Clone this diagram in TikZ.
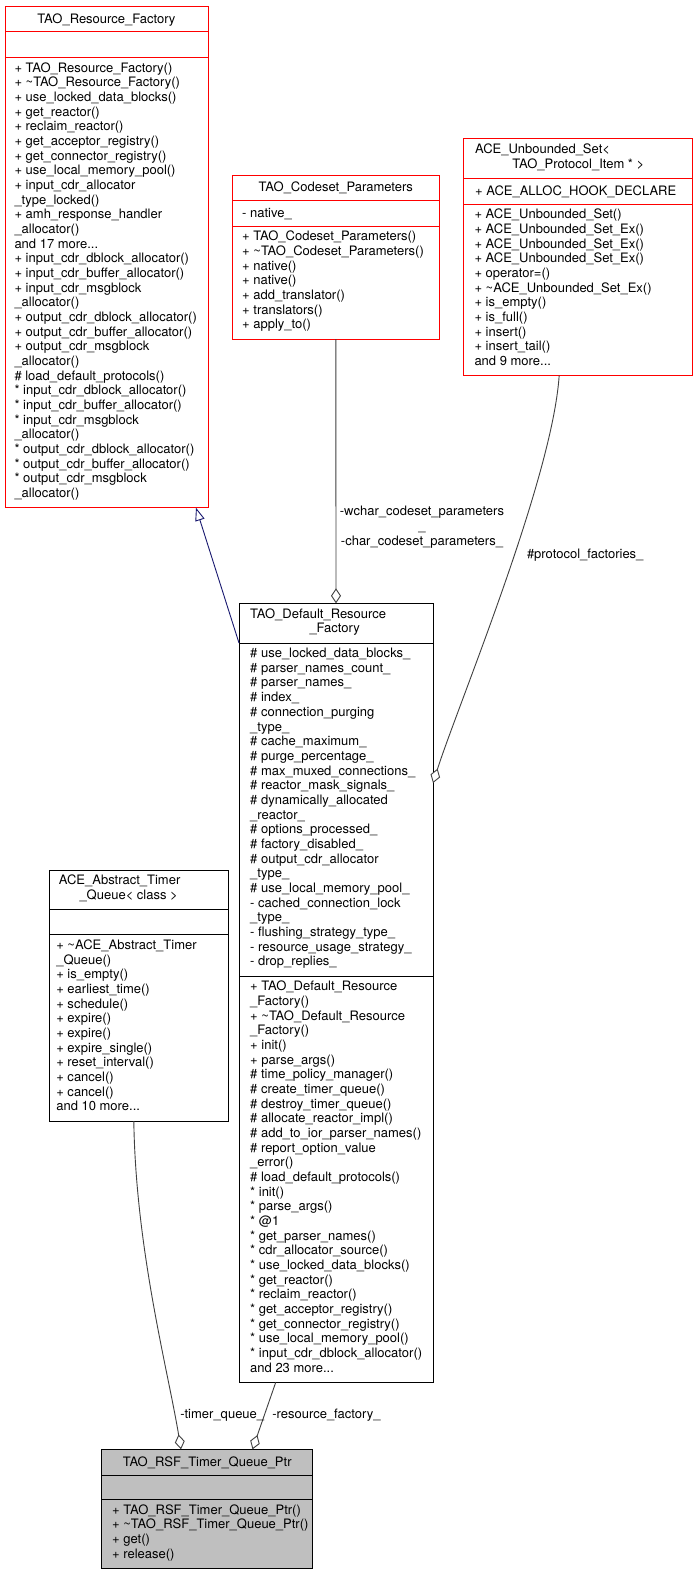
\documentclass[tikz,border=0pt]{standalone}
\usepackage{fontspec}
\setmainfont{TeX Gyre Heros}
\usetikzlibrary{arrows.meta,calc}
\definecolor{edgegray}{HTML}{404040}
\definecolor{inhblue}{HTML}{191970}
\definecolor{boxred}{HTML}{FF0000}
\definecolor{fillgray}{HTML}{BFBFBF}
\newcommand{\mystrut}{\rule[-3.2pt]{0pt}{14.67pt}}
\newcommand{\tl}{\textasciitilde}
\begin{document}
\begin{tikzpicture}[x=1pt,y=-1pt,
  secbox/.style={draw=#1, line width=1pt, fill=white, inner sep=0pt, outer sep=0pt},
  txt/.style={inner sep=0pt, outer sep=0pt, align=left, anchor=north west,
    font=\fontsize{13pt}{14.67pt}\selectfont,
    execute at begin node=\mystrut, execute at end node=\mystrut},
  lbl/.style={inner sep=0pt, outer sep=0pt, font=\fontsize{13pt}{14.67pt}\selectfont},
  edge/.style={draw=edgegray, line width=0.9pt},
  agg/.style={-{Diamond[fill=white,length=15pt,width=10pt]}},
  inh/.style={draw=inhblue, line width=0.9pt, -{Triangle[fill=white,length=13pt,width=9.5pt]}}
]
\fill[white] (0,0) rectangle (699,1576);
\useasboundingbox (0,0) rectangle (699,1576);

% ---------- TAO_Resource_Factory ----------
\node[secbox=boxred, minimum width=203pt, minimum height=25pt, anchor=north west] (rf-t) at (5,6.7) {};
\node[secbox=boxred, minimum width=203pt, minimum height=25.6pt, anchor=north] (rf-a) at (rf-t.south) {};
\node[secbox=boxred, minimum width=203pt, minimum height=450.4pt, anchor=north] (rf-m) at (rf-a.south) {};
\node[lbl, anchor=base] (rf-tt) at ($(rf-t.center)+(0,4.1)$) {TAO\_Resource\_Factory};
\node[txt] (rf-mt) at ($(rf-m.north west)+(9.5,5.17)$) {%
+ TAO\_Resource\_Factory()\\
+ \tl TAO\_Resource\_Factory()\\
+ use\_locked\_data\_blocks()\\
+ get\_reactor()\\
+ reclaim\_reactor()\\
+ get\_acceptor\_registry()\\
+ get\_connector\_registry()\\
+ use\_local\_memory\_pool()\\
+ input\_cdr\_allocator\\
\_type\_locked()\\
+ amh\_response\_handler\\
\_allocator()\\
and 17 more...\\
+ input\_cdr\_dblock\_allocator()\\
+ input\_cdr\_buffer\_allocator()\\
+ input\_cdr\_msgblock\\
\_allocator()\\
+ output\_cdr\_dblock\_allocator()\\
+ output\_cdr\_buffer\_allocator()\\
+ output\_cdr\_msgblock\\
\_allocator()\\
\# load\_default\_protocols()\\
{*} input\_cdr\_dblock\_allocator()\\
{*} input\_cdr\_buffer\_allocator()\\
{*} input\_cdr\_msgblock\\
\_allocator()\\
{*} output\_cdr\_dblock\_allocator()\\
{*} output\_cdr\_buffer\_allocator()\\
{*} output\_cdr\_msgblock\\
\_allocator()};

% ---------- TAO_Codeset_Parameters ----------
\node[secbox=boxred, minimum width=206.3pt, minimum height=25.7pt, anchor=north west] (cp-t) at (232.7,175) {};
\node[secbox=boxred, minimum width=206.3pt, minimum height=25.3pt, anchor=north] (cp-a) at (cp-t.south) {};
\node[secbox=boxred, minimum width=206.3pt, minimum height=113pt, anchor=north] (cp-m) at (cp-a.south) {};
\node[lbl, anchor=base] (cp-tt) at ($(cp-t.center)+(0,4.1)$) {TAO\_Codeset\_Parameters};
\node[txt] (cp-at) at ($(cp-a.north west)+(9.5,5.17)$) {- native\_};
\node[txt] (cp-mt) at ($(cp-m.north west)+(9.5,5.17)$) {%
+ TAO\_Codeset\_Parameters()\\
+ \tl TAO\_Codeset\_Parameters()\\
+ native()\\
+ native()\\
+ add\_translator()\\
+ translators()\\
+ apply\_to()};

% ---------- ACE_Unbounded_Set ----------
\node[secbox=boxred, minimum width=228.7pt, minimum height=39.7pt, anchor=north west] (us-t) at (463.3,139) {};
\node[secbox=boxred, minimum width=228.7pt, minimum height=25.3pt, anchor=north] (us-a) at (us-t.south) {};
\node[secbox=boxred, minimum width=228.7pt, minimum height=171.7pt, anchor=north] (us-m) at (us-a.south) {};
\node[txt] (us-tt) at ($(us-t.north west)+(11.8,5.17)$) {ACE\_Unbounded\_Set<\\\hspace*{37.3pt}TAO\_Protocol\_Item * >};
\node[txt] (us-at) at ($(us-a.north west)+(11.8,5.17)$) {+ ACE\_ALLOC\_HOOK\_DECLARE};
\node[txt] (us-mt) at ($(us-m.north west)+(11.2,5.17)$) {%
+ ACE\_Unbounded\_Set()\\
+ ACE\_Unbounded\_Set\_Ex()\\
+ ACE\_Unbounded\_Set\_Ex()\\
+ ACE\_Unbounded\_Set\_Ex()\\
+ operator=()\\
+ \tl ACE\_Unbounded\_Set\_Ex()\\
+ is\_empty()\\
+ is\_full()\\
+ insert()\\
+ insert\_tail()\\
and 9 more...};

% ---------- TAO_Default_Resource_Factory ----------
\node[secbox=black, minimum width=194pt, minimum height=39.7pt, anchor=north west] (drf-t) at (239,603.3) {};
\node[secbox=black, minimum width=194pt, minimum height=333pt, anchor=north] (drf-a) at (drf-t.south) {};
\node[secbox=black, minimum width=194pt, minimum height=406.4pt, anchor=north] (drf-m) at (drf-a.south) {};
\node[txt] (drf-tt) at ($(drf-t.north west)+(11.2,5.17)$) {TAO\_Default\_Resource\\\hspace*{59.3pt}\_Factory};
\node[txt] (drf-at) at ($(drf-a.north west)+(11.2,5.17)$) {%
\# use\_locked\_data\_blocks\_\\
\# parser\_names\_count\_\\
\# parser\_names\_\\
\# index\_\\
\# connection\_purging\\
\_type\_\\
\# cache\_maximum\_\\
\# purge\_percentage\_\\
\# max\_muxed\_connections\_\\
\# reactor\_mask\_signals\_\\
\# dynamically\_allocated\\
\_reactor\_\\
\# options\_processed\_\\
\# factory\_disabled\_\\
\# output\_cdr\_allocator\\
\_type\_\\
\# use\_local\_memory\_pool\_\\
- cached\_connection\_lock\\
\_type\_\\
- flushing\_strategy\_type\_\\
- resource\_usage\_strategy\_\\
- drop\_replies\_};
\node[txt] (drf-mt) at ($(drf-m.north west)+(11.2,5.17)$) {%
+ TAO\_Default\_Resource\\
\_Factory()\\
+ \tl TAO\_Default\_Resource\\
\_Factory()\\
+ init()\\
+ parse\_args()\\
\# time\_policy\_manager()\\
\# create\_timer\_queue()\\
\# destroy\_timer\_queue()\\
\# allocate\_reactor\_impl()\\
\# add\_to\_ior\_parser\_names()\\
\# report\_option\_value\\
\_error()\\
\# load\_default\_protocols()\\
{*} init()\\
{*} parse\_args()\\
{*} @1\\
{*} get\_parser\_names()\\
{*} cdr\_allocator\_source()\\
{*} use\_locked\_data\_blocks()\\
{*} get\_reactor()\\
{*} reclaim\_reactor()\\
{*} get\_acceptor\_registry()\\
{*} get\_connector\_registry()\\
{*} use\_local\_memory\_pool()\\
{*} input\_cdr\_dblock\_allocator()\\
and 23 more...};

% ---------- ACE_Abstract_Timer_Queue ----------
\node[secbox=black, minimum width=179pt, minimum height=39.7pt, anchor=north west] (aq-t) at (49.3,870) {};
\node[secbox=black, minimum width=179pt, minimum height=25pt, anchor=north] (aq-a) at (aq-t.south) {};
\node[secbox=black, minimum width=179pt, minimum height=186.4pt, anchor=north] (aq-m) at (aq-a.south) {};
\node[txt] (aq-tt) at ($(aq-t.north west)+(9.5,5.17)$) {ACE\_Abstract\_Timer\\\hspace*{20.7pt}\_Queue< class >};
\node[txt] (aq-mt) at ($(aq-m.north west)+(7,5.17)$) {%
+ \tl ACE\_Abstract\_Timer\\
\_Queue()\\
+ is\_empty()\\
+ earliest\_time()\\
+ schedule()\\
+ expire()\\
+ expire()\\
+ expire\_single()\\
+ reset\_interval()\\
+ cancel()\\
+ cancel()\\
and 10 more...};

% ---------- TAO_RSF_Timer_Queue_Ptr ----------
\node[secbox=black, fill=fillgray, minimum width=211pt, minimum height=25.7pt, anchor=north west] (rsf-t) at (101.7,1449.3) {};
\node[secbox=black, fill=fillgray, minimum width=211pt, minimum height=24.3pt, anchor=north] (rsf-a) at (rsf-t.south) {};
\node[secbox=black, fill=fillgray, minimum width=211pt, minimum height=69pt, anchor=north] (rsf-m) at (rsf-a.south) {};
\node[lbl, anchor=base] (rsf-tt) at ($(rsf-t.center)+(0,4.1)$) {TAO\_RSF\_Timer\_Queue\_Ptr};
\node[txt] (rsf-mt) at ($(rsf-m.north west)+(10.5,5.17)$) {%
+ TAO\_RSF\_Timer\_Queue\_Ptr()\\
+ \tl TAO\_RSF\_Timer\_Queue\_Ptr()\\
+ get()\\
+ release()};

% ---------- connectors ----------
\coordinate (inhtip) at ($(rf-m.south west)+(191,0)$);
\draw[inh] (drf-t.south west) -- (inhtip);

\draw[edge, agg] (cp-m.south) -- (drf-t.north);

\coordinate (pfs) at ($(us-m.south)+(-18.5,0)$);
\coordinate (pfe) at ($(drf-a.north east)+(0,140)$);
\draw[edge, agg] (pfs) .. controls ($(pfs)+(-7,104)$) and ($(pfe)+(25,-78)$) .. (pfe);

\coordinate (tqs) at ($(aq-m.south)+(-5,0)$);
\coordinate (tqe) at ($(rsf-t.north)+(-26.2,0)$);
\draw[edge, agg] (tqs) .. controls ($(tqs)+(2,129)$) and ($(tqe)+(-13,-79)$) .. (tqe);

\coordinate (rfs) at ($(drf-m.south west)+(36.7,0)$);
\coordinate (rfe) at ($(rsf-t.north)+(45.3,0)$);
\draw[edge, agg] (rfs) -- (rfe);

% ---------- connector labels ----------
\node[lbl, align=center, anchor=base] (cp-lbl) at (422,545) {-wchar\_codeset\_parameters\\\_\\-char\_codeset\_parameters\_};
\node[lbl, anchor=base west] (pf-lbl) at (527,558.4) {\#protocol\_factories\_};
\node[lbl, anchor=base west] (tq-lbl) at (180.3,1418.1) {-timer\_queue\_};
\node[lbl, anchor=base west] (rfl-lbl) at (272.3,1418.1) {-resource\_factory\_};
\end{tikzpicture}
\end{document}
